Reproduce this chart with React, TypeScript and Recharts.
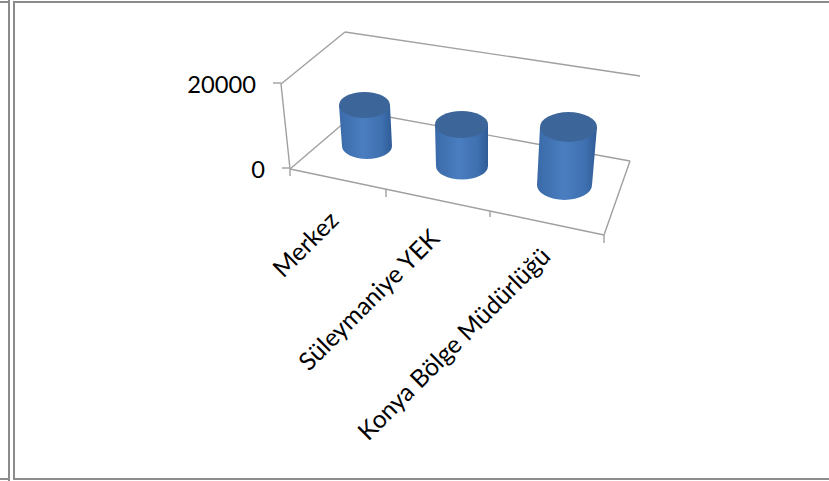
import React from 'react';
import { BarChart, Bar, XAxis, YAxis, Customized } from 'recharts';

const categories = ['Merkez', 'Süleymaniye YEK', 'Konya Bölge Müdürlüğü'];
const values = [9650, 9760, 13650];
const yTicks = [0, 20000];

const data = categories.map((name, i) => ({ name, value: values[i] }));

const FONT = 'Lato, sans-serif';
const FRAME = '#a0a0a0';

// fake 3D layout, per category
const floorDrop = [-23, -3, 16];
const leanTop = [-0.5, -3.5, 3.5];
const leanBottom = [2, -3, -0.5];
const radiusTop = [25.5, 26.5, 28.5];
const radiusBottom = [25, 26, 27.5];
const radiusY = [13, 13.5, 15];
const labelEnds = [
  [340, 222],
  [441, 240],
  [552, 258],
];

const frameLines = [
  [281, 84, 345, 32],
  [345, 32, 640, 76],
  [281, 84, 290, 169],
  [290, 169, 345, 122],
  [345, 109, 630, 161],
  [290, 169, 604, 235],
  [630, 161, 604, 235],
  [386, 189, 386, 197],
  [490, 211, 490, 217],
  [604, 235, 604, 243],
  [290, 169, 290, 176],
];

const Frame = () => (
  <g>
    {frameLines.map((l, i) => (
      <line key={i} x1={l[0]} y1={l[1]} x2={l[2]} y2={l[3]} stroke={FRAME} strokeWidth={1.4} />
    ))}
  </g>
);

const Cylinder = (props: any) => {
  const { x, y, width, height, index } = props;
  const cx = x + width / 2;
  const base = y + height + floorDrop[index];
  const top = base - height;
  const tx = cx + leanTop[index];
  const bx = cx + leanBottom[index];
  const rt = radiusTop[index];
  const rb = radiusBottom[index];
  const ry = radiusY[index];
  const body = `M${tx - rt},${top} L${bx - rb},${base} A${rb},${ry} 0 0 0 ${bx + rb},${base} L${tx + rt},${top} Z`;
  return (
    <g>
      <path d={body} fill="url(#cylBody)" />
      <ellipse cx={tx} cy={top} rx={rt} ry={ry} fill="#3c6699" />
    </g>
  );
};

const XTick = (props: any) => {
  const { index, payload } = props;
  const [ex, ey] = labelEnds[index];
  return (
    <text x={ex} y={ey} textAnchor="end" fontFamily={FONT} fontSize={24.6} fill="#000" transform={`rotate(-45 ${ex} ${ey})`}>
      {payload.value}
    </text>
  );
};

const YTick = (props: any) => {
  const { y, payload } = props;
  const lean = (payload.value / 20000) * 9;
  const right = 290 - lean;
  return (
    <g>
      <line x1={right - 8} y1={y - 1} x2={right} y2={y - 1} stroke={FRAME} strokeWidth={1.4} />
      <text x={right - 25} y={y + 3} textAnchor="end" dominantBaseline="middle" fontFamily={FONT} fontSize={23.7} fill="#000">
        {payload.value}
      </text>
    </g>
  );
};

export default function App() {
  return (
    <div style={{ position: 'absolute', left: 0, top: 0, width: 829, height: 481, background: '#fff', overflow: 'hidden' }}>
      <div style={{ position: 'absolute', left: 8, top: 0, width: 2, height: 481, background: '#8c8c8c' }} />
      <div style={{ position: 'absolute', left: 13, top: 1, width: 816, height: 479, boxSizing: 'border-box', borderLeft: '2px solid #8c8c8c', borderTop: '2px solid #8c8c8c', borderBottom: '2px solid #8c8c8c' }} />
      <div style={{ position: 'absolute', left: 0, top: 1, width: 8, height: 2, background: '#8c8c8c' }} />
      <div style={{ position: 'absolute', left: 0, top: 478, width: 8, height: 2, background: '#8c8c8c' }} />
      <BarChart width={829} height={481} data={data} margin={{ top: 84, right: 214, bottom: 0, left: 0 }} barSize={52}>
        <defs>
          <linearGradient id="cylBody" x1="0" y1="0" x2="1" y2="0">
            <stop offset="0%" stopColor="#3a6aa8" />
            <stop offset="45%" stopColor="#4a7ec0" />
            <stop offset="80%" stopColor="#3f70b0" />
            <stop offset="100%" stopColor="#2f5c96" />
          </linearGradient>
        </defs>
        <Customized component={Frame} />
        <XAxis dataKey="name" height={312} axisLine={false} tickLine={false} interval={0} tick={<XTick />} />
        <YAxis width={315} domain={[0, 20000]} ticks={yTicks} axisLine={false} tickLine={false} tick={<YTick />} />
        <Bar dataKey="value" isAnimationActive={false} shape={<Cylinder />} />
      </BarChart>
    </div>
  );
}
